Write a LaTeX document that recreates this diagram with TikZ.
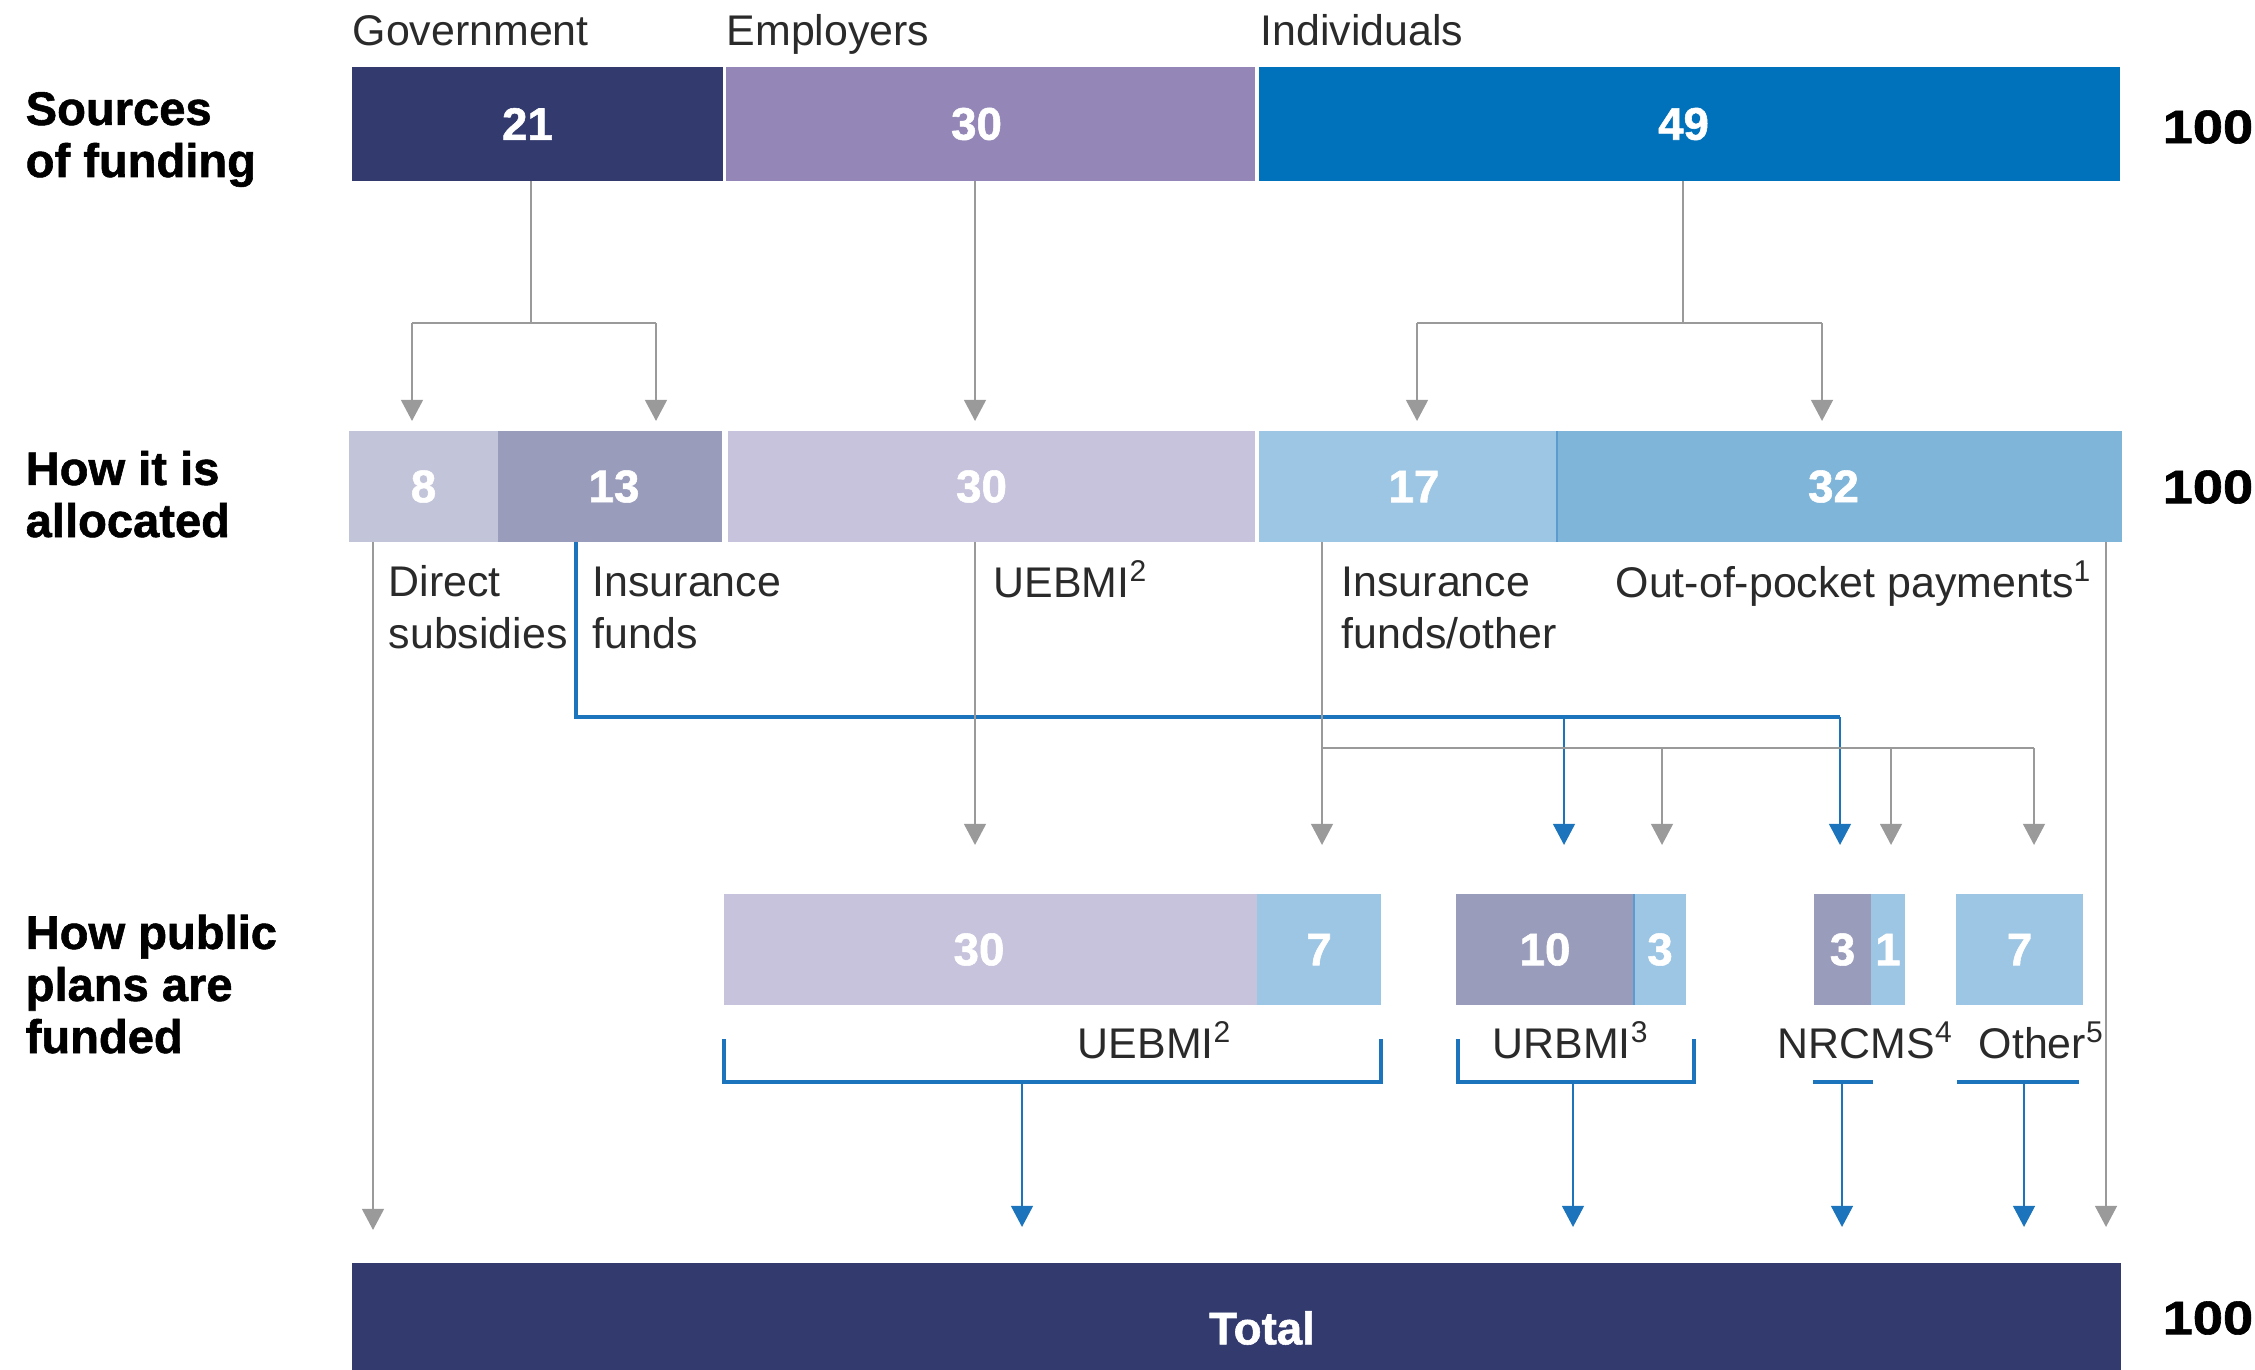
\documentclass[tikz,border=0pt]{standalone}
\usepackage{fontspec}
\setmainfont{Liberation Sans}[BoldFeatures={FakeBold=1.2}]
\usetikzlibrary{arrows.meta}

\definecolor{navy}{HTML}{323A6E}
\definecolor{emppurple}{HTML}{9487B8}
\definecolor{indblue}{HTML}{0071BB}
\definecolor{paleslate}{HTML}{C2C5D9}
\definecolor{midslate}{HTML}{999CBA}
\definecolor{palepurple}{HTML}{C8C3DC}
\definecolor{paleblue}{HTML}{9DC6E4}
\definecolor{midblue}{HTML}{80B5DA}
\definecolor{seamblue}{HTML}{5B9BCF}
\definecolor{conngray}{HTML}{9A9A9A}
\definecolor{connblue}{HTML}{1C75BC}
\definecolor{labeltext}{HTML}{2A2A2A}

% one coloured bar segment: name, x1, x2, y1, y2, fill, text
\newcommand\segment[7]{%
  \node[seg, fill=#6, minimum width={(#3-#2)*0.01cm}, minimum height={(#5-#4)*0.01cm}]
    (#1) at ({(#2+#3)/2},{(#4+#5)/2}) {#7};}
% nudge a bar number left (#1 = twice the shift)
\newcommand\nudgeleft[2]{\hspace*{-#1}#2}
\newcommand\nudgeright[2]{#2\hspace*{-#1}}

\tikzset{
  seg/.style={inner sep=0pt, outer sep=0pt, draw=none, text=white,
    font=\bfseries\fontsize{13}{15}\selectfont},
  lab/.style={anchor=base west, inner sep=0pt, text=labeltext, align=left,
    font=\fontsize{12.2}{14.6}\selectfont},
  head/.style={anchor=base west, inner sep=0pt, text=black, align=left,
    font=\bfseries\fontsize{13.4}{14.8}\selectfont},
  hundred/.style={anchor=west, inner sep=0pt, text=black,
    font=\bfseries\fontsize{13.4}{15}\selectfont},
  gline/.style={draw=conngray, line width=0.6pt},
  garrow/.style={gline, -{Triangle[width=6.2pt,length=6pt]}, shorten >=0.1cm},
  bline/.style={draw=connblue, line width=0.6pt},
  bthick/.style={draw=connblue, line width=0.95pt},
  barrow/.style={bline, -{Triangle[width=6.2pt,length=6pt]}, shorten >=0.49cm},
}

\begin{document}
\begin{tikzpicture}[x=0.01cm, y=-0.01cm]
\useasboundingbox (0,0) rectangle (2255,1370);

% ---- headings on the left (anchored at the baseline of their last line)
\node[head] (hsources) at (25,177) {Sources\\of funding};
\node[head] (halloc) at (25,537) {How it is\\allocated};
\node[head] (hplans) at (25,1053) {How public\\plans are\\funded};

% ---- sources of funding
\node[lab] (tgov) at (352,46) {Government};
\node[lab] (temp) at (726,46) {Employers};
\node[lab] (tind) at (1260,46) {Individuals};
\segment{gov}{352}{723}{67}{181}{navy}{\nudgeleft{0.2cm}{21}}
\segment{emp}{726}{1255}{67}{181}{emppurple}{\nudgeleft{0.28cm}{30}}
\segment{ind}{1259}{2120}{67}{181}{indblue}{\nudgeleft{0.12cm}{49}}
\node[hundred] (sum1) at (2162,127) {\scalebox{1.15}[1]{100}};

% ---- allocation
\segment{d8}{349}{498}{431}{542}{paleslate}{8}
\segment{d13}{498}{722}{431}{542}{midslate}{\nudgeright{0.08cm}{13}}
\segment{d30}{728}{1255}{431}{542}{palepurple}{\nudgeleft{0.2cm}{30}}
\segment{d17}{1259}{1557}{431}{542}{paleblue}{\nudgeright{0.12cm}{17}}
\segment{d32}{1557}{2122}{431}{542}{midblue}{\nudgeleft{0.12cm}{32}}
\draw[seamblue, line width=0.4pt] (d32.north west) -- (d32.south west);
\node[hundred] (sum2) at (2162,487) {\scalebox{1.15}[1]{100}};

\node[lab] (ldirect) at (388,648) {Direct\\subsidies};
\node[lab] (lfunds) at (592,648) {Insurance\\funds};
\node[lab] (luebmi) at (993,597) {UEBMI\textsuperscript{2}};
\node[lab] (lother) at (1341,648) {Insurance\\funds/other};
\node[lab] (lpocket) at (1615,597) {Out-of-pocket payments\textsuperscript{1}};

% ---- public plans
\segment{u30}{724}{1257}{894}{1005}{palepurple}{\nudgeleft{0.23cm}{30}}
\segment{u7}{1257}{1381}{894}{1005}{paleblue}{7}
\segment{r10}{1456}{1634}{894}{1005}{midslate}{10}
\segment{r3}{1634}{1686}{894}{1005}{paleblue}{3}
\draw[seamblue, line width=0.4pt] (r3.north west) -- (r3.south west);
\segment{n3}{1814}{1871}{894}{1005}{midslate}{3}
\segment{n1}{1871}{1905}{894}{1005}{paleblue}{1}
\segment{o7}{1956}{2083}{894}{1005}{paleblue}{7}

\node[lab, anchor=base] (puebmi) at (1155,1058) {UEBMI\textsuperscript{2}};
\node[lab, anchor=base] (purbmi) at (1571,1058) {URBMI\textsuperscript{3}};
\node[lab] (pnrcms) at (1777,1058) {NRCMS\textsuperscript{4}};
\node[lab] (pother) at (1978,1058) {Other\textsuperscript{5}};

% ---- total
\segment{total}{352}{2121}{1263}{1370}{navy}{}
\node[seg, fill=none] (totallabel) at (1262,1328) {Total};
\node[hundred] (sum3) at (2162,1318) {\scalebox{1.15}[1]{100}};

% ---- sources -> allocation
\coordinate (gj) at (531,323);
\coordinate (gl) at (412,323);
\coordinate (gr) at (656,323);
\draw[gline] (gov.south -| gj) -- (gj);
\draw[gline] (gl) -- (gr);
\draw[garrow] (gl) -- (gl |- d8.north);
\draw[garrow] (gr) -- (gr |- d13.north);

\coordinate (ex) at (975,0);
\draw[garrow] (emp.south -| ex) -- (d30.north -| ex);

\coordinate (ij) at (1683,323);
\coordinate (il) at (1417,323);
\coordinate (ir) at (1822,323);
\draw[gline] (ind.south -| ij) -- (ij);
\draw[gline] (il) -- (ir);
\draw[garrow] (il) -- (il |- d17.north);
\draw[garrow] (ir) -- (ir |- d32.north);

% ---- allocation -> public plans / total
\coordinate (dx) at (373,0);
\draw[garrow, shorten >=0.33cm] (d8.south -| dx) -- (total.north -| dx);

\coordinate (bj) at (576,717);
\coordinate (bm) at (1564,717);
\coordinate (be) at (1840,717);
\draw[bthick] (d13.south -| bj) -- (bj) -- (be);
\draw[barrow] (bm) -- (bm |- r10.north);
\draw[barrow] (be) -- (be |- n3.north);

\draw[garrow, shorten >=0.49cm] (d30.south -| ex) -- (u30.north -| ex);

\coordinate (oj) at (1322,748);
\coordinate (oa) at (1662,748);
\coordinate (ob) at (1891,748);
\coordinate (oc) at (2034,748);
\draw[garrow, shorten >=0.49cm] (d17.south -| oj) -- (u7.north -| oj);
\draw[gline] (oj) -- (oc);
\draw[garrow, shorten >=0.49cm] (oa) -- (oa |- r3.north);
\draw[garrow, shorten >=0.49cm] (ob) -- (ob |- n1.north);
\draw[garrow, shorten >=0.49cm] (oc) -- (oc |- o7.north);

\coordinate (px) at (2106,0);
\draw[garrow, shorten >=0.36cm] (d32.south -| px) -- (total.north -| px);

% ---- public plans -> total
\draw[bthick] (724,1039) -- (724,1082) -- (1381,1082) -- (1381,1039);
\draw[bthick] (1458,1039) -- (1458,1082) -- (1694,1082) -- (1694,1039);
\draw[bthick] (1813,1082) -- (1873,1082);
\draw[bthick] (1957,1082) -- (2079,1082);
\coordinate (ua) at (1022,1082);
\coordinate (ra) at (1573,1082);
\coordinate (na) at (1842,1082);
\coordinate (qa) at (2024,1082);
\draw[barrow, shorten >=0.36cm] (ua) -- (ua |- total.north);
\draw[barrow, shorten >=0.36cm] (ra) -- (ra |- total.north);
\draw[barrow, shorten >=0.36cm] (na) -- (na |- total.north);
\draw[barrow, shorten >=0.36cm] (qa) -- (qa |- total.north);
\end{tikzpicture}
\end{document}
